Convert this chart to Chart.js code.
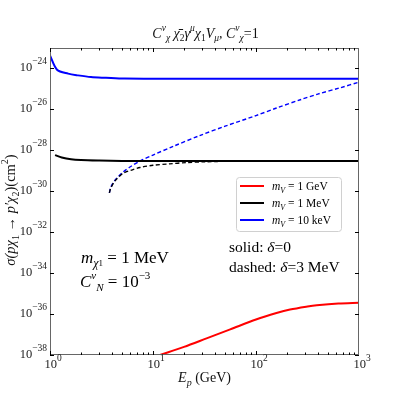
<!DOCTYPE html>
<html>
<head>
<meta charset="utf-8">
<script src="https://cdn.jsdelivr.net/npm/chart.js@4"></script>
<style>
  body { margin: 0; background: #fff; }
  canvas { display: block; }
</style>
</head>
<body>
<canvas id="sigmaChart" width="399" height="399"></canvas>
<script>
// E_p (GeV) and cross sections (cm^2)
const blueSolidE = [1, 1.17, 1.5, 1.87, 2.5, 3.5, 5.3, 10, 100, 1000];
const blueSolid = [4.3e-24, 8.7e-25, 5.6e-25, 4.6e-25, 3.8e-25, 3.5e-25, 3.2e-25, 3.16e-25, 3.15e-25, 3.15e-25];

const blackSolidE = [1.12, 1.3, 1.6, 2, 3, 5, 10, 100, 1000];
const blackSolid = [5.8e-29, 4.5e-29, 3.7e-29, 3.4e-29, 3.2e-29, 3.05e-29, 3.0e-29, 3.0e-29, 3.0e-29];

const blueDashedE = [3.77, 3.89, 4.27, 5.13, 6.03, 7.48, 10, 15.8, 28.8, 50.1, 100, 158, 269, 398, 661, 1000];
const blueDashed = [8.3e-31, 1.58e-30, 3.47e-30, 8.7e-30, 1.58e-29, 3.0e-29, 5.9e-29, 1.58e-28, 5.4e-28, 1.51e-27, 5.0e-27, 1.17e-26, 2.95e-26, 5.6e-26, 1.15e-25, 2.14e-25];

const blackDashedE = [3.77, 3.89, 4.27, 5.13, 6.31, 7.48, 10, 14.5, 20.9, 31.6, 56.2, 100, 1000];
const blackDashed = [8.3e-31, 1.41e-30, 3.16e-30, 7.6e-30, 1.12e-29, 1.45e-29, 1.86e-29, 2.19e-29, 2.51e-29, 2.75e-29, 2.95e-29, 3.0e-29, 3.0e-29];

const redSolidE = [11.7, 20, 33.1, 56.2, 100, 158, 214, 316, 389, 631, 1000];
const redSolid = [1e-38, 2.5e-38, 6.5e-38, 1.78e-37, 5.4e-37, 1.12e-36, 1.66e-36, 2.34e-36, 2.7e-36, 3.3e-36, 3.6e-36];

const xTicks = [1, 10, 100, 1000];
const xTickExp = ['0', '1', '2', '3'];
const yTicks = [1e-24, 1e-26, 1e-28, 1e-30, 1e-32, 1e-34, 1e-36, 1e-38];
const yTickExp = ['\u221224', '\u221226', '\u221228', '\u221230', '\u221232', '\u221234', '\u221236', '\u221238'];

const legendRows = [
    { color: '#ff0000', value: '1 GeV' },
    { color: '#000000', value: '1 MeV' },
    { color: '#0000ff', value: '10 keV' }
];

const SERIF = '"Liberation Serif", "DejaVu Serif", serif';

function pts(xs, ys) {
    return xs.map((x, i) => ({ x: x, y: ys[i] }));
}

function series(label, xs, ys, color, dashed) {
    return {
        label: label,
        data: pts(xs, ys),
        showLine: true,
        borderColor: color,
        backgroundColor: color,
        borderWidth: dashed ? 1.4 : 2,
        borderDash: dashed ? [4, 2.5] : [],
        pointRadius: 0,
        tension: 0.3
    };
}

// draw text made of pieces: [text, italic, shift(0|'sup'|'sub'), size]
function rich(ctx, parts, x, y, align) {
    let widths = parts.map(p => {
        ctx.font = (p[1] ? 'italic ' : '') + p[3] + 'px ' + SERIF;
        return ctx.measureText(p[0]).width;
    });
    let total = widths.reduce((a, b) => a + b, 0);
    let cx = align === 'right' ? x - total : align === 'center' ? x - total / 2 : x;
    ctx.textBaseline = 'alphabetic';
    ctx.textAlign = 'left';
    parts.forEach((p, i) => {
        ctx.font = (p[1] ? 'italic ' : '') + p[3] + 'px ' + SERIF;
        let dy = p[2] === 'sup' ? -p[3] * 0.75 : p[2] === 'sub' ? p[3] * 0.35 : 0;
        ctx.fillText(p[0], cx, y + dy);
        cx += widths[i];
    });
}

const framePlugin = {
    id: 'frame',
    afterDraw(chart) {
        const ctx = chart.ctx;
        const a = chart.chartArea;
        const xs = chart.scales.x, ys = chart.scales.y;
        ctx.save();
        ctx.fillStyle = '#000';
        ctx.strokeStyle = '#666';
        ctx.lineWidth = 1;
        ctx.strokeRect(a.left + 0.5, a.top + 0.5, a.right - a.left - 1, a.bottom - a.top - 1);

        // x ticks, inward, top and bottom
        ctx.strokeStyle = '#000';
        ctx.beginPath();
        for (let d = 1; d < 1000; d *= 10) {
            for (let m = 1; m < 10; m++) {
                let px = Math.round(xs.getPixelForValue(d * m)) + 0.5;
                let len = m === 1 ? 4 : 2.5;
                ctx.moveTo(px, a.bottom); ctx.lineTo(px, a.bottom - len);
                ctx.moveTo(px, a.top); ctx.lineTo(px, a.top + len);
            }
        }
        yTicks.forEach(v => {
            let py = Math.round(ys.getPixelForValue(v)) + 0.5;
            ctx.moveTo(a.left, py); ctx.lineTo(a.left + 4, py);
            ctx.moveTo(a.right, py); ctx.lineTo(a.right - 4, py);
        });
        ctx.stroke();

        // tick labels
        ctx.fillStyle = '#222';
        xTicks.forEach((v, i) => {
            rich(ctx, [['10', false, 0, 12.5], [xTickExp[i], false, 'sup', 9.5]], xs.getPixelForValue(v) + 3, a.bottom + 13, 'center');
        });
        yTicks.forEach((v, i) => {
            rich(ctx, [['10', false, 0, 12.5], [yTickExp[i], false, 'sup', 9.5]], a.left - 3, ys.getPixelForValue(v) + 3, 'right');
        });

        // title and axis labels
        ctx.fillStyle = '#111';
        rich(ctx, [['C', true, 0, 14], ['v', true, 'sup', 9.5], ['\u03c7', true, 'sub', 9.5], [' \u03c7\u0304', true, 0, 14], ['2', false, 'sub', 9.5],
                   ['\u03b3', true, 0, 14], ['\u03bc', true, 'sup', 9.5], ['\u03c7', true, 0, 14], ['1', false, 'sub', 9.5],
                   ['V', true, 0, 14], ['\u03bc', true, 'sub', 9.5], [', C', true, 0, 14], ['v', true, 'sup', 9.5], ['\u03c7', true, 'sub', 9.5], ['=1', false, 0, 14]],
             (a.left + a.right) / 2 + 1, 38, 'center');
        rich(ctx, [['E', true, 0, 14], ['p', true, 'sub', 10], [' (GeV)', false, 0, 14]], (a.left + a.right) / 2, 382, 'center');

        ctx.save();
        ctx.translate(15, 210);
        ctx.rotate(-Math.PI / 2);
        rich(ctx, [['\u03c3(p\u03c7', true, 0, 14.5], ['1', false, 'sub', 10], [' \u2192 p\u2032\u03c7', true, 0, 14.5], ['2', false, 'sub', 10],
                   [')(cm', false, 0, 14.5], ['2', false, 'sup', 10], [')', false, 0, 14.5]], 0, 0, 'center');
        ctx.restore();

        // annotations
        ctx.fillStyle = '#000';
        rich(ctx, [['m', true, 0, 17], ['\u03c7', true, 'sub', 12], ['1', false, 'sub', 9], [' = 1 MeV', false, 0, 17]], 81, 263, 'left');
        rich(ctx, [['C', true, 0, 17], ['v', true, 'sup', 11], ['N', true, 'sub', 11], [' = 10', false, 0, 17], ['\u22123', false, 'sup', 11]], 80, 287, 'left');
        rich(ctx, [['solid: ', false, 0, 15.5], ['\u03b4', true, 0, 15.5], ['=0', false, 0, 15.5]], 229, 252, 'left');
        rich(ctx, [['dashed: ', false, 0, 15.5], ['\u03b4', true, 0, 15.5], ['=3 MeV', false, 0, 15.5]], 229, 272, 'left');

        // legend box
        ctx.beginPath();
        ctx.roundRect(236.5, 177.5, 105, 54, 3);
        ctx.fillStyle = 'rgba(255,255,255,0.9)';
        ctx.fill();
        ctx.strokeStyle = '#d0d0d0';
        ctx.stroke();
        legendRows.forEach((r, i) => {
            let y = 186 + i * 17;
            ctx.strokeStyle = r.color;
            ctx.lineWidth = 2;
            ctx.beginPath();
            ctx.moveTo(240, y); ctx.lineTo(264, y);
            ctx.stroke();
            ctx.fillStyle = '#000';
            rich(ctx, [['m', true, 0, 11.5], ['V', true, 'sub', 8], [' = ' + r.value, false, 0, 11.5]], 272, y + 4, 'left');
        });
        ctx.restore();
    }
};

new Chart(document.getElementById('sigmaChart').getContext('2d'), {
    type: 'scatter',
    data: {
        datasets: [
            series('m_V = 1 GeV', redSolidE, redSolid, '#ff0000', false),
            series('m_V = 1 MeV', blackSolidE, blackSolid, '#000000', false),
            series('m_V = 10 keV', blueSolidE, blueSolid, '#0000ff', false),
            series('m_V = 1 MeV, dashed', blackDashedE, blackDashed, '#000000', true),
            series('m_V = 10 keV, dashed', blueDashedE, blueDashed, '#0000ff', true)
        ]
    },
    options: {
        responsive: false,
        animation: false,
        layout: { padding: { left: 50, top: 48, right: 40, bottom: 44 } },
        scales: {
            x: { type: 'logarithmic', min: 1, max: 1000, display: false },
            y: { type: 'logarithmic', min: 1e-38, max: 1e-23, display: false }
        },
        plugins: {
            legend: { display: false },
            tooltip: { enabled: false }
        }
    },
    plugins: [framePlugin]
});
</script>
</body>
</html>
